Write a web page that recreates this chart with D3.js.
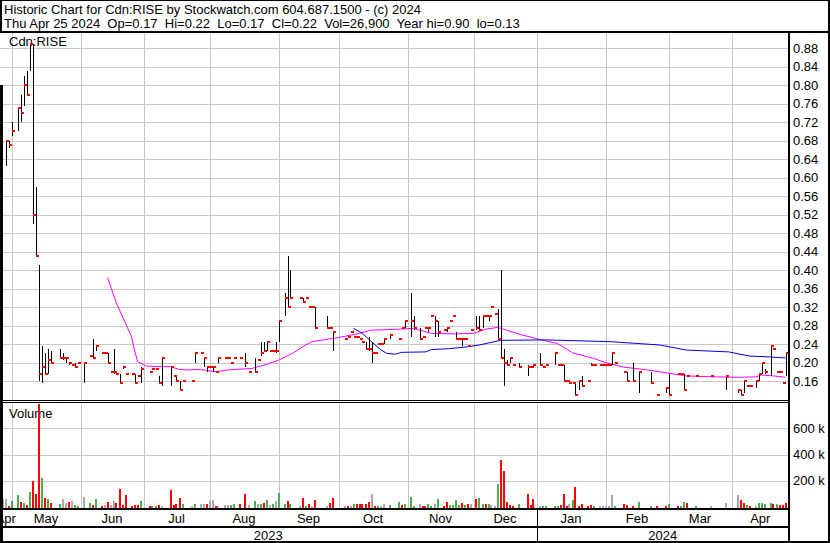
<!DOCTYPE html>
<html><head><meta charset="utf-8">
<script src="https://cdn.jsdelivr.net/npm/d3@7"></script>
<style>
html,body{margin:0;padding:0;background:#fff;}
svg{display:block;font-family:"Liberation Sans",Arial,sans-serif;}
text{white-space:pre;}
</style></head><body>
<svg id="c" width="830" height="543"></svg>
<script>
// ---- data (session index: 0 = Mon May 1 2023, weekdays) ----
const dayIdx = [-3,-2,-1,0,2,3,4,5,6,7,8,9,10,11,12,13,16,17,18,19,20,21,22,24,26,27,28,30,31,32,33,34,35,36,37,38,40,41,42,43,46,47,48,49,50,53,54,55,56,57,60,61,63,64,65,66,67,68,69,71,72,73,74,76,78,79,81,82,83,84,85,86,87,88,89,91,92,93,96,97,98,99,100,101,105,106,107,111,112,113,114,115,116,117,118,119,120,121,122,123,124,126,129,130,131,133,134,136,137,138,139,140,141,142,144,145,146,147,148,149,150,151,152,153,155,156,157,158,159,160,161,162,163,164,165,166,167,169,172,173,174,176,177,178,181,182,183,184,185,186,187,188,189,190,192,193,194,196,197,198,199,200,201,204,205,207,209,213,215,218,219,222,223,224,225,228,233,238,242,243,244,245,246,248,249,250,251,253,254,255,256,257,258];
const high = [null,.68,.68,.72,.75,.78,.82,.83,.89,.89,.58,.41,.235,.22,.23,.225,.23,.22,.21,.20,.195,.20,.20,.20,.215,.25,.235,.22,.22,.22,.18,.23,.175,.175,.19,.175,.175,.175,.17,.19,.18,.185,.185,.17,.21,.19,.17,.17,.16,.16,.16,.22,.22,.21,.19,.19,.19,.18,.21,.21,.21,.20,.21,.21,.22,.18,.21,.205,.245,.245,.245,.225,.225,.245,.29,.35,.43,.40,.34,.34,.34,.32,.32,.32,.30,.275,.265,.25,.255,.265,.255,.255,.25,.245,.245,.255,.245,.22,.24,.24,.25,.26,.25,.275,.29,.35,.30,.275,.255,.275,.275,.30,.30,.29,.27,.275,.29,.30,.265,.25,.25,.25,.235,.27,.30,.30,.30,.30,.30,.32,.305,.315,.40,.23,.205,.21,.195,.20,.195,.19,.195,.22,.19,.195,.22,.195,.195,.195,.16,.155,.155,.155,.16,.17,.16,.20,.195,.195,.195,.195,.195,.22,.20,.18,.18,.20,.18,.18,.13,.145,.175,.175,.175,.175,.17,.17,.17,.17,.14,.14,.16,.15,.15,.16,.175,.20,.185,.235,.23,.18,.18,.155,.22];
const low = [null,.625,.665,.69,.70,.72,.755,.78,.83,.50,.43,.16,.155,.175,.175,.20,.21,.205,.20,.195,.195,.19,.20,.155,.215,.21,.225,.22,.22,.20,.18,.175,.175,.155,.185,.175,.175,.155,.17,.155,.18,.185,.185,.155,.15,.15,.17,.16,.14,.16,.16,.20,.22,.19,.18,.19,.18,.18,.20,.21,.21,.20,.21,.21,.19,.18,.18,.205,.215,.225,.225,.225,.225,.22,.245,.30,.32,.34,.34,.33,.34,.32,.32,.275,.275,.275,.225,.25,.255,.265,.255,.255,.25,.245,.23,.225,.20,.22,.24,.24,.24,.25,.25,.275,.275,.255,.27,.25,.255,.275,.265,.30,.255,.255,.27,.265,.29,.30,.25,.25,.235,.25,.235,.27,.27,.27,.275,.30,.29,.32,.305,.25,.21,.15,.195,.20,.195,.19,.17,.19,.195,.195,.19,.195,.195,.195,.195,.16,.16,.155,.155,.13,.14,.15,.16,.195,.195,.195,.195,.195,.195,.195,.20,.18,.16,.16,.135,.155,.13,.135,.13,.175,.175,.14,.17,.17,.17,.14,.135,.13,.135,.15,.15,.145,.16,.175,.175,.17,.23,.18,.18,.155,.17];
const close = [null,.68,.67,.70,.75,.74,.80,.78,.89,.52,.43,.175,.19,.175,.205,.20,.21,.21,.21,.20,.195,.19,.20,.20,.215,.21,.235,.22,.22,.20,.18,.18,.175,.155,.19,.175,.175,.155,.17,.185,.18,.185,.185,.155,.21,.19,.17,.16,.14,.16,.16,.22,.22,.21,.19,.19,.19,.18,.21,.21,.21,.20,.21,.21,.20,.18,.18,.205,.22,.225,.245,.225,.225,.225,.29,.34,.32,.34,.34,.33,.34,.32,.32,.275,.275,.275,.265,.25,.255,.265,.255,.255,.25,.245,.23,.23,.22,.22,.24,.24,.25,.26,.25,.275,.29,.29,.275,.25,.255,.275,.275,.30,.29,.265,.27,.275,.29,.30,.25,.25,.25,.25,.235,.27,.275,.27,.30,.30,.30,.32,.305,.25,.21,.20,.195,.21,.195,.19,.19,.19,.195,.195,.19,.195,.22,.195,.195,.16,.16,.155,.155,.13,.16,.15,.16,.195,.195,.195,.195,.195,.195,.22,.20,.18,.16,.16,.18,.155,.13,.145,.13,.175,.175,.14,.17,.17,.17,.17,.14,.13,.16,.15,.15,.16,.175,.20,.18,.235,.23,.18,.18,.155,.22];
const volume = [59,59,8,46,90,41,33,15,118,202,97,900,218,72,59,33,26,59,33,38,46,15,8,77,33,13,64,8,13,41,13,46,28,141,13,90,8,15,13,46,8,8,8,15,8,128,13,26,72,26,8,26,26,26,20,46,54,8,8,15,15,15,26,26,102,15,46,20,26,33,56,15,20,46,110,26,46,20,8,72,8,20,8,56,8,33,72,8,8,8,20,20,20,20,26,41,102,8,8,8,26,15,41,15,20,79,8,26,10,10,26,10,26,64,8,41,13,13,51,15,33,13,26,20,64,72,26,26,26,15,8,179,362,272,41,15,8,26,102,15,64,8,8,8,8,8,13,97,8,26,54,156,8,20,8,13,8,8,8,8,8,90,8,26,15,8,41,8,8,8,26,8,8,41,33,8,8,33,90,51,33,15,8,8,33,33,26,33,20,20,13,13,27];
const volDir = "nnrggrgrgrrrgrgrgnnrnggngrgrnrnnrrrrrrrgrggrnrrrrgngnnrnnrnnnggrrngngrgngnggrgnrgrnrnrrnrngrrrrrnrgnnggrgggnrrggngrrggggrgrnrggrgnngrrrrrgrrrnggggrrrngrrrrrgnnnnngrrrggrrgrggrgnnnrrgrnggggrgrrrrg";
const maFast = [[32,.384],[35,.328],[38,.285],[40,.256],[41,.227],[42,.202],[45,.192],[53,.191],[56,.185],[59,.184],[63,.185],[68,.18],[72,.184],[80,.187],[85,.196],[89,.205],[94,.221],[97,.234],[100,.245],[105,.25],[109,.254],[116,.263],[120,.27],[129,.272],[134,.274],[136,.27],[140,.263],[147,.262],[154,.263],[158,.272],[162,.276],[165,.27],[170,.26],[176,.25],[182,.241],[187,.221],[194,.209],[198,.20],[204,.19],[212,.184],[218,.178],[225,.171],[234,.169],[242,.168],[248,.169],[250,.173],[254,.171],[258,.168]];
const maSlow = [[114,.274],[117,.263],[120,.245],[123,.228],[125,.22],[128,.218],[130,.222],[138,.223],[140,.228],[146,.23],[152,.234],[156,.238],[163,.248],[178,.249],[200,.245],[216,.238],[225,.227],[239,.223],[246,.214],[253,.212],[258,.21]];
const priceTicks = [0.16,0.20,0.24,0.28,0.32,0.36,0.40,0.44,0.48,0.52,0.56,0.60,0.64,0.68,0.72,0.76,0.80,0.84,0.88];
const volTicks = [200000,400000,600000];
const volTickLabels = ["200 k","400 k","600 k"];
const monthNames = ["Jan","Feb","Mar","Apr","May","Jun","Jul","Aug","Sep","Oct","Nov","Dec"];
const header1 = "Historic Chart for Cdn:RISE by Stockwatch.com 604.687.1500 - (c) 2024";
const header2 = "Thu Apr 25 2024  Op=0.17  Hi=0.22  Lo=0.17  Cl=0.22  Vol=26,900  Year hi=0.90  lo=0.13";

// ---- layout ----
const svg = d3.select("#c");
const W = 830, H = 543, plotR = 789;
const pTop = 33, pBot = 400, vTop = 404, vBot = 508;

const weekdays = d3.timeDay.range(new Date(2023,3,25), new Date(2024,3,26)).filter(d => d.getDay() !== 0 && d.getDay() !== 6);
const OFF = weekdays.findIndex(d => +d === +new Date(2023,4,1));
const x = d3.scaleLinear().domain([0, 258]).range([11.5, 785.5]);
const yP = d3.scaleLinear().domain([0.16, 0.88]).range([381, 48.3]);
const yV = d3.scaleLinear().domain([0, 600000]).range([507, 428.3]);

const bars = dayIdx.map((d,k) => ({i:d, h:high[k], l:low[k], c:close[k], v:volume[k]*1000, dir:volDir[k]}));

const defs = svg.append("defs");
defs.append("clipPath").attr("id","cp").append("rect").attr("x",0).attr("y",pTop).attr("width",plotR).attr("height",pBot-pTop);
defs.append("clipPath").attr("id","cv").append("rect").attr("x",0).attr("y",vTop).attr("width",plotR).attr("height",vBot-vTop);

svg.append("rect").attr("width",W).attr("height",H).attr("fill","#fff");

// month boundaries
const months = d3.timeMonth.range(new Date(2023,4,1), new Date(2024,4,1));
const monthX = months.map(m => {
  let d = m;
  while (d.getDay() === 0 || d.getDay() === 6) d = d3.timeDay.offset(d, -1);
  return x(weekdays.findIndex(w => +w === +d) - OFF);
});

const grid = svg.append("g").attr("stroke","#c8c8c8").attr("stroke-width",1).attr("shape-rendering","crispEdges");
priceTicks.forEach(t => grid.append("line").attr("x1",0).attr("x2",plotR).attr("y1",Math.round(yP(t))+0.5).attr("y2",Math.round(yP(t))+0.5));
volTicks.forEach(t => grid.append("line").attr("x1",0).attr("x2",plotR).attr("y1",Math.round(yV(t))+0.5).attr("y2",Math.round(yV(t))+0.5));
monthX.forEach(mx => {
  grid.append("line").attr("x1",Math.round(mx)+0.5).attr("x2",Math.round(mx)+0.5).attr("y1",pTop).attr("y2",pBot);
  grid.append("line").attr("x1",Math.round(mx)+0.5).attr("x2",Math.round(mx)+0.5).attr("y1",vTop).attr("y2",vBot);
});

const txt = (s, tx, ty, anchor) => svg.append("text").attr("x",tx).attr("y",ty).attr("font-size",13).attr("fill","#000").attr("xml:space","preserve").attr("text-anchor",anchor||"start").text(s);
txt(header1, 4, 14);
txt(header2, 4, 28);
txt("Cdn:RISE", 9, 46);
txt("Volume", 9, 418);

// right axes
const ax = svg.append("g").attr("transform",`translate(${plotR+1},0)`)
  .call(d3.axisRight(yP).tickValues(priceTicks).tickFormat(d3.format(".2f")).tickSize(0).tickPadding(3));
ax.select(".domain").remove();
ax.selectAll("text").attr("font-size",13).attr("fill","#000").attr("font-family","Liberation Sans, Arial, sans-serif");
const axv = svg.append("g").attr("transform",`translate(${plotR+1},0)`)
  .call(d3.axisRight(yV).tickValues(volTicks).tickFormat((d,k)=>volTickLabels[k]).tickSize(0).tickPadding(3));
axv.select(".domain").remove();
axv.selectAll("text").attr("font-size",13).attr("fill","#000").attr("font-family","Liberation Sans, Arial, sans-serif");

// volume bars
const volCol = {r:"#ff0000", g:"#4caf50", n:"#aaaaaa"};
svg.append("g").attr("clip-path","url(#cv)").attr("shape-rendering","crispEdges")
  .selectAll("rect").data(bars).join("rect")
  .attr("x", d => Math.round(x(d.i)) - 1).attr("width", 2)
  .attr("y", d => Math.min(yV(d.v), 507)).attr("height", d => Math.max(1, 508 - yV(d.v)))
  .attr("fill", d => volCol[d.dir]);

// moving averages
const line = d3.line().x(d => x(d[0])).y(d => yP(d[1]));
const gp = svg.append("g").attr("clip-path","url(#cp)");
gp.append("path").attr("d", line(maFast)).attr("fill","none").attr("stroke","#ff00ff").attr("stroke-width",1);
gp.append("path").attr("d", line(maSlow)).attr("fill","none").attr("stroke","#0000ee").attr("stroke-width",1);

// OHLC bars
const pb = bars.filter(d => d.h !== null);
gp.append("g").attr("shape-rendering","crispEdges").selectAll("rect").data(pb).join("rect")
  .attr("x", d => Math.round(x(d.i))).attr("width",1)
  .attr("y", d => Math.round(yP(d.h))).attr("height", d => Math.max(1, Math.round(yP(d.l)) - Math.round(yP(d.h))))
  .attr("fill","#000");
gp.append("g").attr("shape-rendering","crispEdges").selectAll("rect").data(pb).join("rect")
  .attr("x", d => Math.round(x(d.i))).attr("width",3)
  .attr("y", d => Math.round(yP(d.c)) - 1).attr("height",2)
  .attr("fill","#ff0000");

// month and year labels
const bounds = [0, ...monthX, plotR];
const labelMonths = [new Date(2023,3,1), ...months];
labelMonths.forEach((m,k) => txt(monthNames[m.getMonth()], (bounds[k]+bounds[k+1])/2, 523, "middle"));
const janX = monthX[months.findIndex(m => m.getFullYear() === 2024 && m.getMonth() === 0)];
txt("2023", janX/2, 540, "middle");
txt("2024", (janX+plotR)/2, 540, "middle");

// frame
const fr = svg.append("g").attr("fill","#000").attr("shape-rendering","crispEdges");
const r = (a,b,w,h) => fr.append("rect").attr("x",a).attr("y",b).attr("width",w).attr("height",h);
r(0,0,W,1);              // top
r(0,31,W,2);             // header rule
r(0,0,2,32);             // left header
r(0,85,3,H-85);          // left side
r(plotR-1,31,2,H-31);    // plot right
r(W-2,0,2,H);            // outer right
r(0,400,plotR,1);        // double separator
r(0,402,plotR,1);
r(0,508,plotR,2);        // volume bottom
r(0,526,plotR,2);        // month row bottom
r(0,H-2,W,2);            // bottom
r(Math.round(janX),510,1,16); r(Math.round(janX),528,1,13);
</script>
</body></html>
